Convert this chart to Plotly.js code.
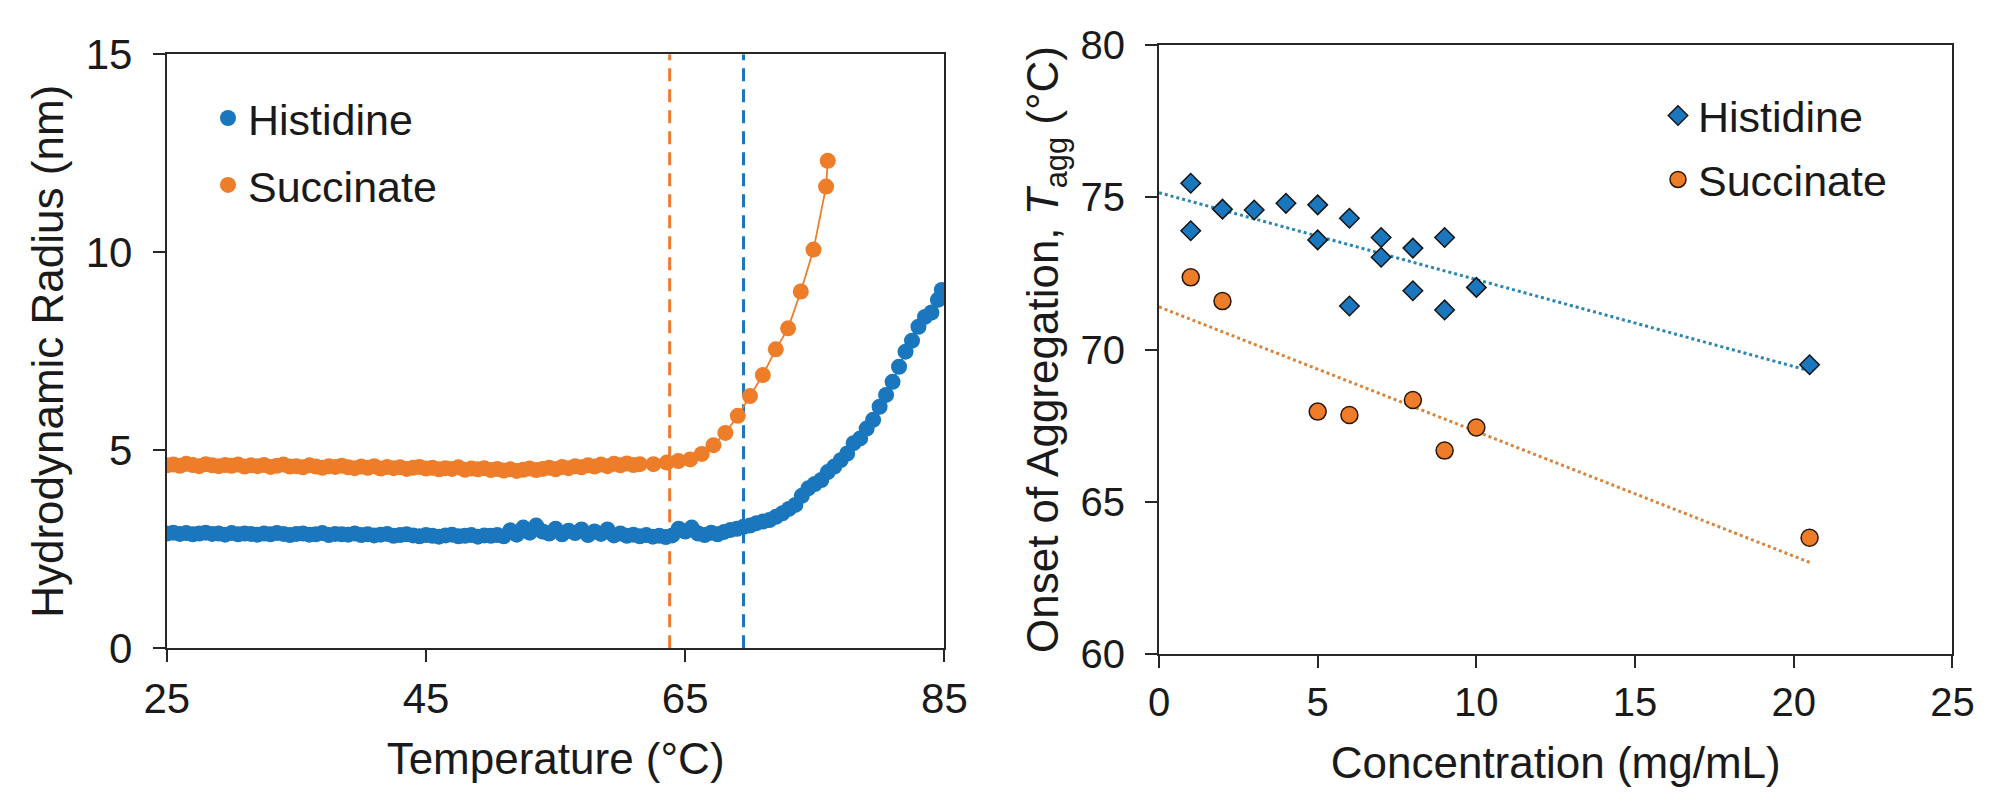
<!DOCTYPE html>
<html>
<head>
<meta charset="utf-8">
<script src="https://cdn.plot.ly/plotly-3.0.1.min.js"></script>
<style>
  html, body { margin: 0; padding: 0; background: #ffffff; }
  #chart { width: 2000px; height: 811px; }
</style>
</head>
<body>
<div id="chart"></div>
<script>
// ---------- Left panel: hydrodynamic radius vs temperature ----------
const hisTemp = [
  25.0,25.5,26.0,26.5,27.0,27.5,28.0,28.5,29.0,29.5,
  30.0,30.5,31.0,31.5,32.0,32.5,33.0,33.5,34.0,34.5,
  35.0,35.5,36.0,36.5,37.0,37.5,38.0,38.5,39.0,39.5,
  40.0,40.5,41.0,41.5,42.0,42.5,43.0,43.5,44.0,44.5,
  45.0,45.5,46.0,46.5,47.0,47.5,48.0,48.5,49.0,49.5,
  50.0,50.5,51.0,51.5,52.0,52.5,53.0,53.5,54.0,54.5,
  55.0,55.5,56.0,56.5,57.0,57.5,58.0,58.5,59.0,59.5,
  60.0,60.5,61.0,61.5,62.0,62.5,63.0,63.5,64.0,64.5,
  65.0,65.5,66.0,66.5,67.0,67.5,68.0,68.5,69.0,69.5,
  70.0,70.5,71.0,71.5,72.0,72.5,73.0,73.5,74.0,74.5,
  75.0,75.5,76.0,76.5,77.0,77.5,78.0,78.5,79.0,79.5,
  80.0,80.5,81.0,81.5,82.0,82.5,83.0,83.5,84.0,84.5,84.8
];
const hisRadius = [
  2.90,2.92,2.89,2.91,2.88,2.90,2.92,2.89,2.90,2.87,
  2.91,2.88,2.90,2.89,2.87,2.90,2.88,2.91,2.89,2.86,
  2.89,2.90,2.87,2.88,2.91,2.86,2.89,2.88,2.87,2.90,
  2.86,2.88,2.85,2.87,2.89,2.84,2.86,2.88,2.85,2.83,
  2.86,2.84,2.82,2.85,2.87,2.83,2.84,2.86,2.82,2.85,
  2.84,2.86,2.83,2.98,2.87,3.05,2.92,3.10,2.95,2.90,
  3.02,2.88,2.97,2.91,3.00,2.86,2.95,2.89,3.00,2.85,
  2.90,2.84,2.87,2.83,2.86,2.82,2.84,2.81,2.85,3.02,
  2.95,3.05,2.90,2.86,2.92,2.88,2.94,2.99,3.02,3.07,
  3.10,3.16,3.20,3.24,3.32,3.41,3.52,3.62,3.85,4.04,
  4.15,4.25,4.45,4.59,4.75,4.92,5.18,5.30,5.55,5.77,
  6.10,6.40,6.73,7.11,7.49,7.77,8.12,8.37,8.48,8.80,9.05
];
const sucTemp = [
  25.0,25.5,26.0,26.5,27.0,27.5,28.0,28.5,29.0,29.5,
  30.0,30.5,31.0,31.5,32.0,32.5,33.0,33.5,34.0,34.5,
  35.0,35.5,36.0,36.5,37.0,37.5,38.0,38.5,39.0,39.5,
  40.0,40.5,41.0,41.5,42.0,42.5,43.0,43.5,44.0,44.5,
  45.0,45.5,46.0,46.5,47.0,47.5,48.0,48.5,49.0,49.5,
  50.0,50.5,51.0,51.5,52.0,52.5,53.0,53.5,54.0,54.5,
  55.0,55.5,56.0,56.5,57.0,57.5,58.0,58.5,59.0,59.5,
  60.0,60.5,61.0,61.5,
  62.55,63.58,64.47,65.38,66.28,67.18,68.10,69.06,70.00,70.99,
  71.99,72.94,73.92,74.90,75.87,76.00
];
const sucRadius = [
  4.62,4.64,4.61,4.66,4.63,4.60,4.65,4.62,4.60,4.63,
  4.61,4.64,4.59,4.62,4.60,4.63,4.58,4.61,4.64,4.59,
  4.60,4.57,4.62,4.59,4.56,4.60,4.58,4.61,4.57,4.55,
  4.59,4.56,4.60,4.54,4.58,4.55,4.57,4.53,4.56,4.58,
  4.54,4.56,4.52,4.55,4.53,4.57,4.51,4.54,4.52,4.55,
  4.50,4.53,4.49,4.52,4.48,4.51,4.54,4.50,4.53,4.56,
  4.52,4.58,4.55,4.60,4.57,4.62,4.59,4.64,4.60,4.66,
  4.62,4.67,4.63,4.65,
  4.65,4.69,4.73,4.77,4.91,5.13,5.44,5.87,6.37,6.90,
  7.55,8.08,9.01,10.07,11.66,12.31
];
// Onset temperatures marked by dashed vertical lines (°C)
const tOnsetSuc = 63.8;
const tOnsetHis = 69.5;

const leftXTicks = [25, 45, 65, 85];
const leftYTicks = [0, 5, 10, 15];

// ---------- Right panel: Tagg vs concentration ----------
const hisConc = [1, 1, 2, 3, 4, 5, 5, 6, 6, 7, 7, 8, 8, 9, 9, 10, 20.5];
const hisTagg = [75.46, 73.90, 74.61, 74.58, 74.80, 74.75, 73.60, 74.31, 71.43,
                 73.68, 73.03, 73.33, 71.93, 73.68, 71.30, 72.04, 69.50];
const sucConc = [1, 2, 5, 6, 8, 9, 10, 20.5];
const sucTagg = [72.37, 71.59, 67.96, 67.85, 68.34, 66.68, 67.44, 63.82];
// Linear trendlines (end points)
const trendConc = [0, 20.5];
const hisTrendTagg = [75.15, 69.30];
const sucTrendTagg = [71.40, 63.01];

const rightXTicks = [0, 5, 10, 15, 20, 25];
const rightYTicks = [60, 65, 70, 75, 80];

// ---------- Styles ----------
const BLUE = '#1a76bd';
const ORANGE = '#ee7d2a';
const AXIS = '#262626';
const TEXT = '#1a1a1a';
const FONT = 'Liberation Sans, Arial, sans-serif';

const traces = [
  // left: vertical onset lines
  {x: [tOnsetSuc, tOnsetSuc], y: [leftYTicks[0], leftYTicks[leftYTicks.length-1]], xaxis: 'x', yaxis: 'y',
   mode: 'lines', line: {color: ORANGE, width: 3, dash: '13px,8px'}, showlegend: false, hoverinfo: 'skip'},
  {x: [tOnsetHis, tOnsetHis], y: [leftYTicks[0], leftYTicks[leftYTicks.length-1]], xaxis: 'x', yaxis: 'y',
   mode: 'lines', line: {color: BLUE, width: 3, dash: '13px,8px'}, showlegend: false, hoverinfo: 'skip'},
  // left: connecting lines
  {x: hisTemp, y: hisRadius, xaxis: 'x', yaxis: 'y', mode: 'lines',
   line: {color: BLUE, width: 1.8}, showlegend: false, hoverinfo: 'skip'},
  {x: sucTemp, y: sucRadius, xaxis: 'x', yaxis: 'y', mode: 'lines',
   line: {color: ORANGE, width: 1.8}, showlegend: false, hoverinfo: 'skip'},
  // left: markers
  {x: hisTemp, y: hisRadius, xaxis: 'x', yaxis: 'y', mode: 'markers', name: 'Histidine',
   legend: 'legend', legendgroup: 'a1',
   marker: {color: BLUE, size: 16, line: {width: 0}}},
  {x: sucTemp, y: sucRadius, xaxis: 'x', yaxis: 'y', mode: 'markers', name: 'Succinate',
   legend: 'legend', legendgroup: 'a2',
   marker: {color: ORANGE, size: 16, line: {width: 0}}},
  // right: trendlines
  {x: trendConc, y: hisTrendTagg, xaxis: 'x2', yaxis: 'y2', mode: 'lines',
   line: {color: '#2a86b0', width: 3, dash: 'dot'}, showlegend: false, hoverinfo: 'skip'},
  {x: trendConc, y: sucTrendTagg, xaxis: 'x2', yaxis: 'y2', mode: 'lines',
   line: {color: '#d9843a', width: 3, dash: 'dot'}, showlegend: false, hoverinfo: 'skip'},
  // right: markers
  {x: hisConc, y: hisTagg, xaxis: 'x2', yaxis: 'y2', mode: 'markers', name: 'Histidine',
   legend: 'legend2', legendgroup: 'b1',
   marker: {symbol: 'diamond', color: BLUE, size: 15, line: {color: '#141414', width: 1.5}}},
  {x: sucConc, y: sucTagg, xaxis: 'x2', yaxis: 'y2', mode: 'markers', name: 'Succinate',
   legend: 'legend2', legendgroup: 'b2',
   marker: {symbol: 'circle', color: ORANGE, size: 17, line: {color: '#2a1606', width: 1.5}}}
];

function axisBase(extra) {
  return Object.assign({
    showline: true, linecolor: AXIS, linewidth: 2, mirror: true,
    ticks: 'outside', ticklen: 12, tickwidth: 2, tickcolor: AXIS,
    showgrid: false, zeroline: false, automargin: false,
    tickfont: {family: FONT, size: 42, color: TEXT},
    tickmode: 'array'
  }, extra);
}

const layout = {
  width: 2000, height: 811,
  margin: {l: 0, r: 0, t: 0, b: 0},
  paper_bgcolor: '#ffffff', plot_bgcolor: '#ffffff',
  font: {family: FONT, color: TEXT},
  xaxis: axisBase({domain: [0.0834, 0.4722], range: [25, 85], tickvals: leftXTicks,
    anchor: 'y',
    title: {text: 'Temperature (°C)', font: {family: FONT, size: 44, color: TEXT}, standoff: 22}}),
  yaxis: axisBase({domain: [0.2006, 0.9330], range: [0, 15], tickvals: leftYTicks,
    anchor: 'x', ticklabelstandoff: 12,
    title: {text: 'Hydrodynamic Radius (nm)', font: {family: FONT, size: 44, color: TEXT}, standoff: 8}}),
  xaxis2: axisBase({domain: [0.5795, 0.9762], range: [0, 25], tickvals: rightXTicks,
    anchor: 'y2', tickfont: {family: FONT, size: 40, color: TEXT},
    title: {text: 'Concentration (mg/mL)', font: {family: FONT, size: 44, color: TEXT}, standoff: 24}}),
  yaxis2: axisBase({domain: [0.1936, 0.9445], range: [60, 80], tickvals: rightYTicks,
    anchor: 'x2', ticklabelstandoff: 12, tickfont: {family: FONT, size: 40, color: TEXT},
    title: {text: 'Onset of Aggregation, <i>T</i><sub>agg</sub> (°C)', font: {family: FONT, size: 44, color: TEXT}, standoff: 8}}),
  legend: {x: 0.104, y: 0.897, xanchor: 'left', yanchor: 'top',
    bgcolor: 'rgba(0,0,0,0)', borderwidth: 0, traceorder: 'grouped', tracegroupgap: 8,
    font: {family: FONT, size: 43, color: TEXT}},
  legend2: {x: 0.829, y: 0.9, xanchor: 'left', yanchor: 'top',
    bgcolor: 'rgba(0,0,0,0)', borderwidth: 0, traceorder: 'grouped', tracegroupgap: 5,
    font: {family: FONT, size: 43, color: TEXT}},
  showlegend: true
};

Plotly.newPlot('chart', traces, layout, {displayModeBar: false, staticPlot: true});
</script>
</body>
</html>
